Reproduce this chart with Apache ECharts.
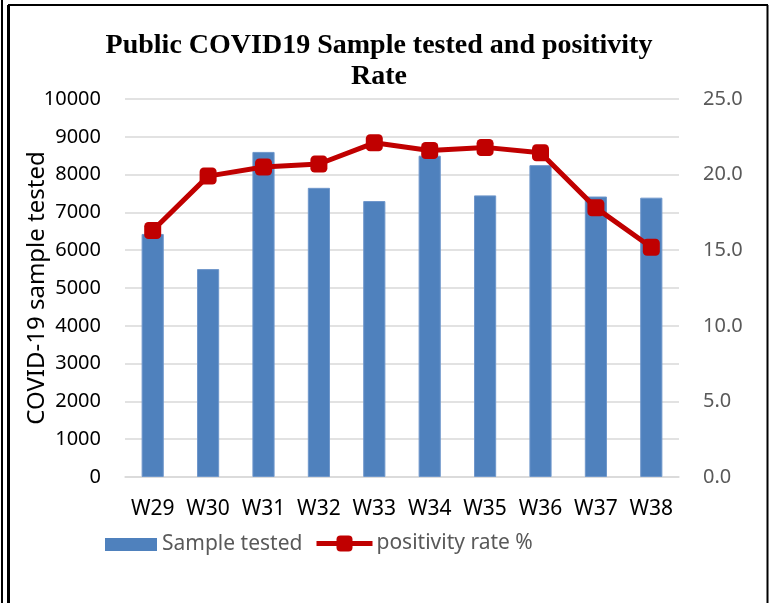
<!DOCTYPE html>
<html>
<head>
<meta charset="utf-8">
<script src="https://cdn.jsdelivr.net/npm/echarts@6/dist/echarts.min.js"></script>
<style>
  html, body { margin: 0; padding: 0; background: #fff; }
  #main { width: 775px; height: 603px; }
</style>
</head>
<body>
<div id="main"></div>
<script>
// weekly data
var weeks = ['W29', 'W30', 'W31', 'W32', 'W33', 'W34', 'W35', 'W36', 'W37', 'W38']
var sampleTested = [6430, 5500, 8600, 7650, 7300, 8500, 7450, 8250, 7420, 7390]
var positivityRate = [16.3, 19.9, 20.5, 20.7, 22.1, 21.6, 21.8, 21.45, 17.8, 15.2]

var chart = echarts.init(document.getElementById('main'), null, { renderer: 'canvas' })

var labelFont = '"Noto Sans", sans-serif'

var option = {
  backgroundColor: '#fff',
  animation: false,
  title: {
    text: 'Public COVID19 Sample tested and positivity\nRate',
    left: 374,
    top: 25,
    textAlign: 'center',
    textStyle: {
      fontFamily: '"Liberation Serif", serif',
      fontWeight: 'bold',
      fontSize: 28,
      lineHeight: 31,
      color: '#000'
    }
  },
  // frame around the chart (double line on the left like the source)
  graphic: [
    { type: 'line', shape: { x1: 2, y1: 0, x2: 2, y2: 603 }, style: { stroke: '#000', lineWidth: 2 } },
    { type: 'line', shape: { x1: 8.5, y1: 5, x2: 8.5, y2: 603 }, style: { stroke: '#000', lineWidth: 3 } },
    { type: 'line', shape: { x1: 8, y1: 5, x2: 768, y2: 5 }, style: { stroke: '#000', lineWidth: 2 } },
    { type: 'line', shape: { x1: 767.5, y1: 5, x2: 767.5, y2: 603 }, style: { stroke: '#000', lineWidth: 2 } }
  ],
  legend: [
    {
      left: 105,
      top: 534,
      padding: 0,
      itemWidth: 52,
      itemHeight: 13,
      icon: 'rect',
      itemStyle: { borderWidth: 0 },
      textStyle: { fontFamily: labelFont, fontSize: 21, color: '#595959' },
      data: ['Sample tested']
    },
    {
      left: 314,
      top: 533,
      padding: 0,
      itemWidth: 56,
      itemHeight: 20,
      lineStyle: { width: 5 },
      textStyle: { fontFamily: labelFont, fontSize: 21, color: '#595959', padding: [0, 0, 0, -1] },
      data: ['positivity rate %']
    }
  ],
  grid: {
    left: 125,
    right: 96,
    top: 99,
    bottom: 126,
    containLabel: false
  },
  xAxis: {
    type: 'category',
    data: weeks,
    axisLine: { show: true, lineStyle: { color: '#D9D9D9', width: 1.5 } },
    axisTick: { show: false },
    axisLabel: { interval: 0, fontFamily: labelFont, fontSize: 21, color: '#000', margin: 22 }
  },
  yAxis: [
    {
      type: 'value',
      min: 0,
      max: 10000,
      interval: 1000,
      name: 'COVID-19 sample tested',
      nameLocation: 'middle',
      nameGap: 76,
      nameMoveOverlap: false,
      nameTextStyle: { fontFamily: labelFont, fontSize: 24, color: '#000' },
      axisLine: { show: false },
      axisTick: { show: false },
      axisLabel: {
        fontFamily: labelFont, fontSize: 20, color: '#000', margin: 24,
        formatter: function (v) { return String(v) }
      },
      splitLine: { lineStyle: { color: '#D9D9D9', width: 1.5 } }
    },
    {
      type: 'value',
      min: 0,
      max: 25,
      interval: 5,
      position: 'right',
      axisLine: { show: false },
      axisTick: { show: false },
      axisLabel: {
        fontFamily: labelFont, fontSize: 20, color: '#595959', margin: 24,
        formatter: function (v) { return v.toFixed(1) }
      },
      splitLine: { show: false }
    }
  ],
  series: [
    {
      name: 'Sample tested',
      type: 'bar',
      yAxisIndex: 0,
      barWidth: '40%',
      itemStyle: { color: '#4F81BD', borderColor: '#6F97CB', borderWidth: 1 },
      data: sampleTested
    },
    {
      name: 'positivity rate %',
      type: 'line',
      yAxisIndex: 1,
      symbol: 'roundRect',
      symbolSize: 17,
      lineStyle: { color: '#C00000', width: 5 },
      itemStyle: { color: '#C00000' },
      data: positivityRate
    }
  ]
}

chart.setOption(option)
</script>
</body>
</html>
